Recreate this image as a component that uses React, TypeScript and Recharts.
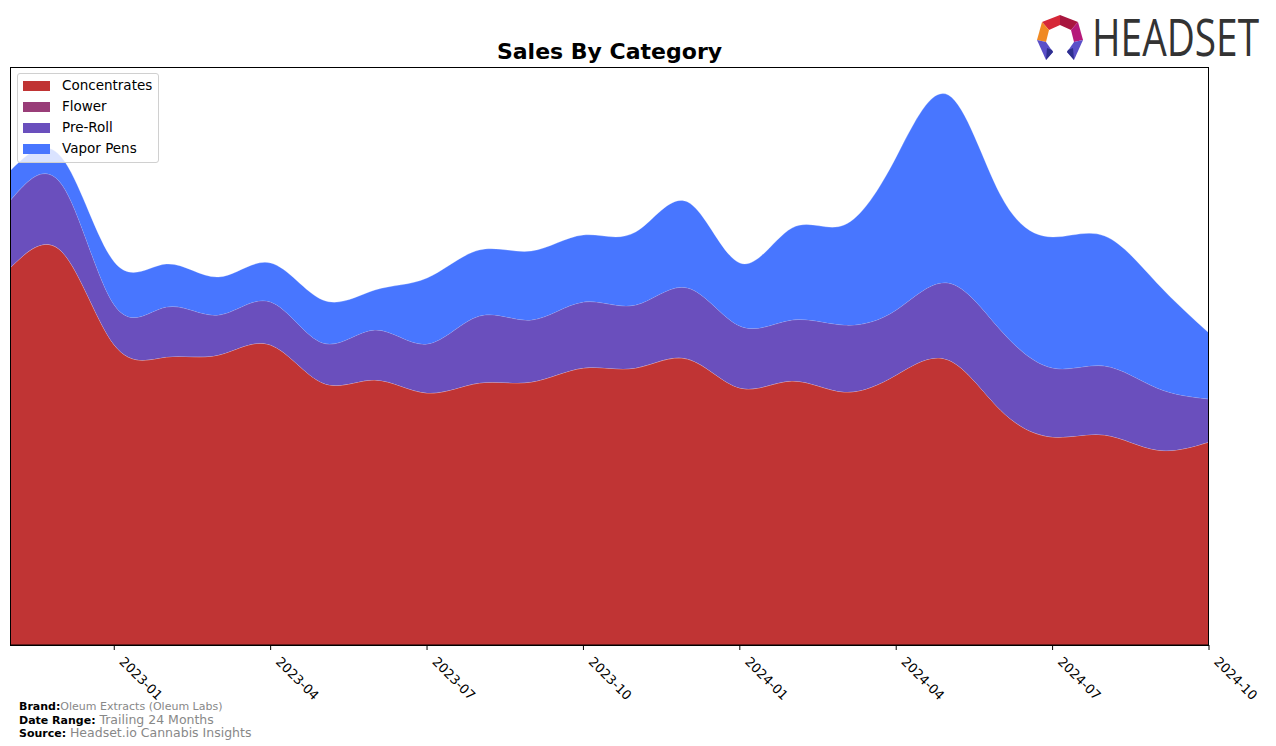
import { AreaChart, Area, XAxis, YAxis } from 'recharts';

const months = [
  '2022-11', '2022-12', '2023-01', '2023-02', '2023-03', '2023-04',
  '2023-05', '2023-06', '2023-07', '2023-08', '2023-09', '2023-10',
  '2023-11', '2023-12', '2024-01', '2024-02', '2024-03', '2024-04',
  '2024-05', '2024-06', '2024-07', '2024-08', '2024-09', '2024-10',
];

const concentrates = [377, 393, 300, 288, 290, 300, 262, 265, 252, 262, 263, 277, 277, 286, 257, 264, 253, 270, 285, 235, 208, 210, 195, 203];
const flower = [0, 0, 0, 0, 0, 0, 0, 0, 0, 0, 0, 0, 0, 0, 0, 0, 0, 0, 0, 0, 0, 0, 0, 0];
const preRoll = [67, 67, 40, 50, 40, 43, 40, 50, 49, 67, 62, 66, 63, 71, 62, 61, 67, 65, 77, 80, 69, 69, 62, 43];
const vaporPens = [30, 27, 43, 43, 38, 39, 43, 40, 66, 66, 69, 67, 73, 86, 63, 92, 100, 153, 188, 135, 131, 130, 105, 66];

const tickIdx = [2, 5, 8, 11, 14, 17, 20, 23];

const series = [
  { key: 'concentrates', name: 'Concentrates', color: '#C03434' },
  { key: 'flower', name: 'Flower', color: '#993D78' },
  { key: 'preRoll', name: 'Pre-Roll', color: '#6A4FBD' },
  { key: 'vaporPens', name: 'Vapor Pens', color: '#4876FF' },
];

const data = months.map((m, i) => ({
  idx: i,
  month: m,
  concentrates: concentrates[i],
  flower: flower[i],
  preRoll: preRoll[i],
  vaporPens: vaporPens[i],
}));

const font = '"DejaVu Sans", sans-serif';

// rotated month labels hanging off to the lower right of each tick
const MonthTick = (props: any) => {
  const { x, y, payload } = props;
  return (
    <g transform={`translate(${x + 10},${y + 2})`}>
      <text x={0} y={0} dx={2} dy={10} transform="rotate(45)" textAnchor="start" fontSize={13} fontFamily={font} fill="#000">
        {months[payload.value]}
      </text>
    </g>
  );
};

const LegendBox = () => (
  <div
    style={{
      position: 'absolute',
      left: 17,
      top: 73,
      border: '1px solid #d0d0d0',
      borderRadius: 3,
      background: 'rgba(255,255,255,0.8)',
      padding: '1px 6px 3px 5px',
      fontFamily: font,
      fontSize: 13.5,
      lineHeight: '21px',
    }}
  >
    {series.map((s) => (
      <div key={s.key} style={{ display: 'flex', alignItems: 'center' }}>
        <span style={{ display: 'inline-block', width: 27, height: 10, background: s.color, marginRight: 12 }} />
        <span>{s.name}</span>
      </div>
    ))}
  </div>
);

const Logo = () => (
  <svg width={246} height={72} style={{ position: 'absolute', left: 1030, top: 0 }}>
    <g transform="translate(0,8)">
      <polygon points="12,14 30,7 30,17 19,22" fill="#D62838" />
      <polygon points="30,7 48,14 41,22 30,17" fill="#A8163F" />
      <polygon points="48,14 53,32 44,34 41,22" fill="#B5197A" />
      <polygon points="12,14 19,22 16,34 7,32" fill="#F08A24" />
      <polygon points="7,32 16,34 23,44 16,52" fill="#5A4FC8" />
      <polygon points="53,32 44,34 37,44 44,52" fill="#5A4FC8" />
      <polygon points="16,52 23,44 22,42 17,40" fill="#2E2F8F" />
      <polygon points="44,52 37,44 38,42 43,40" fill="#2E2F8F" />
    </g>
    <g transform="translate(62,56) scale(0.97,1.26)">
      <text x={0} y={0} fontSize={40} fontFamily='"Open Sans", sans-serif' fill="#333">
        HEADSET
      </text>
    </g>
  </svg>
);

export default function App() {
  return (
    <div style={{ position: 'absolute', left: 0, top: 0, width: 1276, height: 746, background: '#fff', fontFamily: font }}>
      <div
        style={{
          position: 'absolute',
          left: 10,
          width: 1199,
          top: 39,
          textAlign: 'center',
          fontSize: 22,
          fontWeight: 'bold',
          fontFamily: font,
        }}
      >
        Sales By Category
      </div>
      <Logo />
      <AreaChart width={1276} height={746} data={data} margin={{ top: 67, right: 67, left: 10, bottom: 41 }}>
        <XAxis
          dataKey="idx"
          type="number"
          domain={[0, 23]}
          ticks={tickIdx}
          tick={<MonthTick />}
          height={60}
          axisLine={{ stroke: '#000' }}
          tickLine={{ stroke: '#000' }}
          tickSize={5}
          interval={0}
        />
        <YAxis hide domain={[0, 578]} />
        {series.map((s) => (
          <Area
            key={s.key}
            type="natural"
            dataKey={s.key}
            name={s.name}
            stackId="1"
            fill={s.color}
            fillOpacity={1}
            stroke="#ffffff"
            strokeOpacity={0.25}
            strokeWidth={1}
            isAnimationActive={false}
          />
        ))}
      </AreaChart>
      <div style={{ position: 'absolute', left: 10, top: 67, width: 1197, height: 577, border: '1px solid #000', pointerEvents: 'none' }} />
      <LegendBox />
      <div style={{ position: 'absolute', left: 19, top: 699, fontFamily: font, lineHeight: '11.5px', color: '#000' }}>
        <div>
          <span style={{ fontWeight: 'bold', fontSize: 11 }}>Brand:</span>
          <span style={{ fontSize: 11, color: '#888' }}>Oleum Extracts (Oleum Labs)</span>
        </div>
        <div>
          <span style={{ fontWeight: 'bold', fontSize: 11 }}>Date Range: </span>
          <span style={{ fontSize: 12.5, color: '#888' }}>Trailing 24 Months</span>
        </div>
        <div>
          <span style={{ fontWeight: 'bold', fontSize: 11 }}>Source: </span>
          <span style={{ fontSize: 12.5, color: '#888' }}>Headset.io Cannabis Insights</span>
        </div>
      </div>
    </div>
  );
}
